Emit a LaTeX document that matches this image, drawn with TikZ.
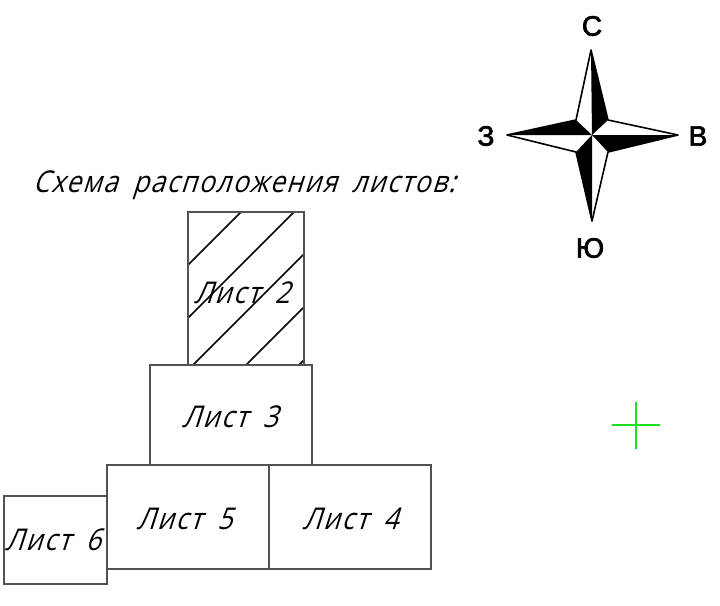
\documentclass[tikz,border=0pt]{standalone}
\usepackage{fontspec}
\setmainfont{Liberation Sans}
\newfontfamily\gost[FakeSlant=0.32,FakeStretch=0.88,LetterSpace=5.5,WordSpace=1.8]{Open Sans}
\newfontfamily\titlefont[FakeSlant=0.32,FakeStretch=0.875,LetterSpace=5.2,WordSpace=1.8]{Open Sans}
\newfontfamily\compassfont[FakeBold=2.5]{Liberation Sans}
\definecolor{crossgreen}{RGB}{30,225,30}
\tikzset{
  sheet/.style={draw=black!68,line width=1.4pt,inner sep=0pt,font=\gost\fontsize{30}{30}\selectfont},
  hatch/.style={draw=black,line width=1.5pt},
  star/.style={draw=black,fill=white,line width=1.6pt,line join=round},
  starfill/.style={fill=black},
  dir/.style={font=\compassfont\fontsize{28}{28}\selectfont,inner sep=0pt},
  title/.style={font=\titlefont\fontsize{30}{30}\selectfont,inner sep=0pt},
  cross/.style={draw=crossgreen,line width=1.2pt}
}
\begin{document}
\begin{tikzpicture}[x=1pt,y=-1pt]
\useasboundingbox (0,0) rectangle (720,605);
% hatch under sheet 2
\coordinate (h1a) at (241,212); \coordinate (h1b) at (188,265);
\coordinate (h2a) at (294,212); \coordinate (h2b) at (188,318);
\coordinate (h3a) at (304,254); \coordinate (h3b) at (193,365);
\coordinate (h4a) at (304,307); \coordinate (h4b) at (246,365);
\coordinate (h5a) at (304,360); \coordinate (h5b) at (299,365);
\foreach \i in {1,...,5} \draw[hatch] (h\i a) -- (h\i b);
\node[sheet,text height=30pt,text depth=0pt,minimum width=116pt,minimum height=153pt] (s2) at (246,288.5) {\hspace*{-8pt}Лист 2};
\node[sheet,text height=25pt,text depth=0pt,minimum width=162pt,minimum height=100pt] (s3) at (231,415) {\hspace*{-2pt}Лист 3};
\node[sheet,text height=25pt,text depth=0pt,minimum width=162pt,minimum height=104pt] (s5) at (188,517) {\hspace*{-7pt}Лист 5};
\node[sheet,text height=25pt,text depth=0pt,minimum width=162pt,minimum height=104pt] (s4) at (350,517) {\hspace*{1pt}Лист 4};
\node[sheet,minimum width=103pt,minimum height=88pt] (s6) at (55.5,540) {\hspace*{-5pt}Лист 6};
\node[title] (t) at (244,185) {Схема расположения листов:};
% compass
\coordinate (c) at (592,135);
\coordinate (n) at (591,50); \coordinate (e) at (678,135);
\coordinate (so) at (592,221); \coordinate (w) at (507,135);
\coordinate (ne) at (608,120); \coordinate (se) at (608,152);
\coordinate (sw) at (576,152); \coordinate (nw) at (576,120);
\draw[star] (n) -- (ne) -- (e) -- (se) -- (so) -- (sw) -- (w) -- (nw) -- cycle;
\fill[starfill] (n) -- (ne) -- (c) -- cycle;
\fill[starfill] (e) -- (se) -- (c) -- cycle;
\fill[starfill] (so) -- (sw) -- (c) -- cycle;
\fill[starfill] (w) -- (nw) -- (c) -- cycle;
\node[dir] (dn) at (592,26) {С};
\node[dir] (de) at (698,136) {В};
\node[dir] (dw) at (486,136) {З};
\node[dir] (ds) at (590,248) {Ю};
% green cross
\coordinate (g1) at (612,425); \coordinate (g2) at (660,425);
\coordinate (g3) at (636,402); \coordinate (g4) at (636,449);
\draw[cross] (g1) -- (g2);
\draw[cross] (g3) -- (g4);
\end{tikzpicture}
\end{document}
